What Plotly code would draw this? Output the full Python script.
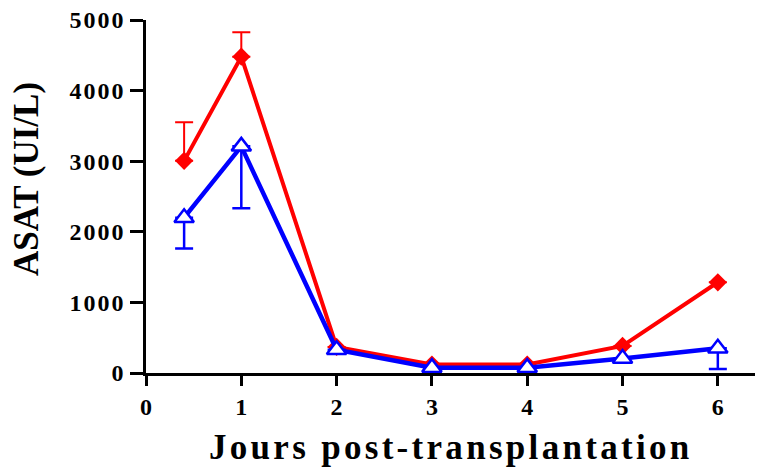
import plotly.graph_objects as go

# Days after transplantation and ASAT means (UI/L) with one-sided SEM
days = [0.4, 1, 2, 3, 4, 5, 6]
red_asat = [3005, 4480, 370, 120, 120, 383, 1285]
red_err_up = [545, 345, 0, 0, 0, 0, 0]
blue_asat = [2200, 3210, 330, 76, 76, 204, 350]
blue_err_down = [435, 877, 0, 0, 0, 0, 293]

x_ticks = [0, 1, 2, 3, 4, 5, 6]
y_ticks = [0, 1000, 2000, 3000, 4000, 5000]

RED = "#ff0000"
BLUE = "#0000ff"
FONT = "Liberation Serif"


def spaced(t, px):
    return f'<span style="letter-spacing:{px}px">{t}</span>'


fig = go.Figure()

fig.add_trace(go.Scatter(
    x=days, y=red_asat, mode="lines+markers",
    line=dict(color=RED, width=4),
    marker=dict(symbol="diamond", size=14, color=RED),
    error_y=dict(type="data", symmetric=False,
                 array=red_err_up, arrayminus=[0] * len(days),
                 color=RED, thickness=2, width=9),
    showlegend=False,
))

fig.add_trace(go.Scatter(
    x=days, y=blue_asat, mode="lines+markers",
    line=dict(color=BLUE, width=4.5),
    marker=dict(symbol="triangle-up", size=17, color="white",
                line=dict(color=BLUE, width=2.5)),
    error_y=dict(type="data", symmetric=False,
                 array=[0] * len(days), arrayminus=blue_err_down,
                 color=BLUE, thickness=2.5, width=9),
    showlegend=False,
))

fig.update_layout(
    width=760, height=475,
    margin=dict(l=146, r=5, t=20, b=102),
    paper_bgcolor="white", plot_bgcolor="white",
    font=dict(family=FONT, color="black"),
    xaxis=dict(
        range=[0, 6.39], showgrid=False, zeroline=False,
        showline=True, linecolor="black", linewidth=2.5,
        ticks="outside", ticklen=10, tickwidth=2.5, tickcolor="black",
        tickvals=x_ticks, ticktext=[f"<b>{v}</b>" for v in x_ticks],
        tickfont=dict(family=FONT, size=24, color="black"),
    ),
    yaxis=dict(
        range=[0, 5000], showgrid=False, zeroline=False,
        showline=True, linecolor="black", linewidth=2.5,
        ticks="outside", ticklen=13, tickwidth=2.5, tickcolor="black",
        tickvals=y_ticks,
        ticktext=[f"<b>{spaced(v, 2)}</b>" for v in y_ticks],
        tickfont=dict(family=FONT, size=24, color="black"),
    ),
    annotations=[
        dict(text=f"<b>{spaced('Jours post-transplantation', 3.3)}</b>",
             xref="paper", yref="paper", x=0.5, y=-0.21,
             xanchor="center", yanchor="middle", showarrow=False,
             font=dict(family=FONT, size=35, color="black")),
        dict(text="<b>ASAT (UI/L)</b>",
             xref="paper", yref="paper", x=-0.195, y=0.55,
             xanchor="center", yanchor="middle", showarrow=False,
             textangle=-90,
             font=dict(family=FONT, size=35, color="black")),
    ],
)

fig.write_html("out.html")
